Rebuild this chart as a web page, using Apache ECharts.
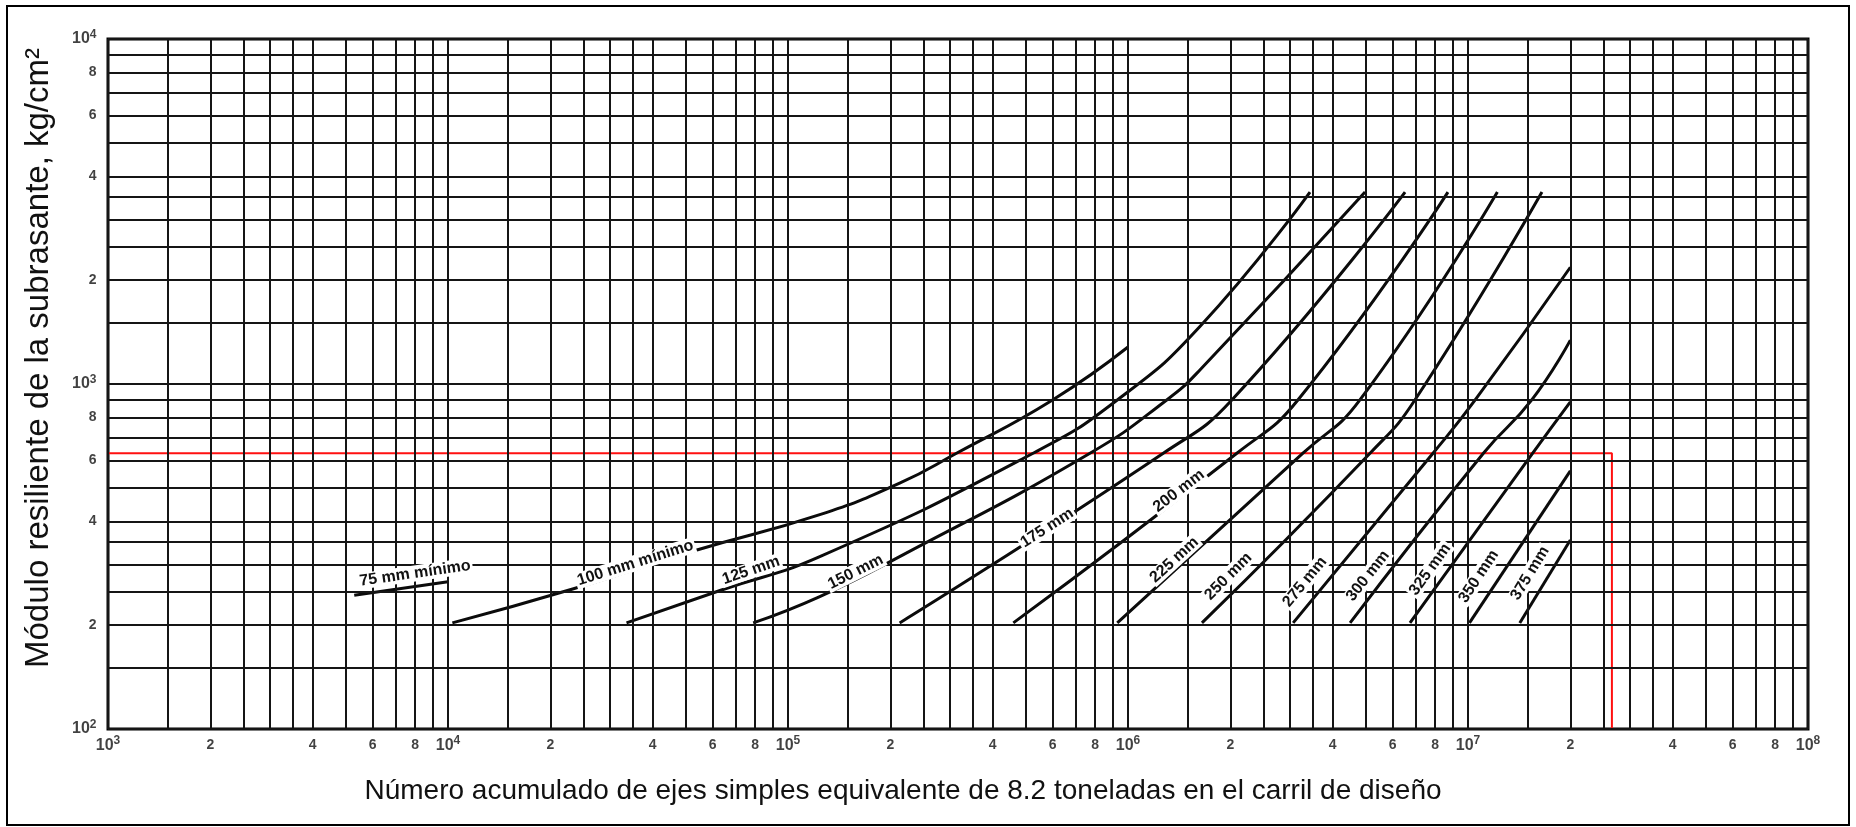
<!DOCTYPE html>
<html>
<head>
<meta charset="utf-8">
<script src="https://cdn.jsdelivr.net/npm/echarts@6/dist/echarts.min.js"></script>
<style>
  html, body { margin: 0; padding: 0; background: #fff; }
  #chart { width: 1856px; height: 827px; }
</style>
</head>
<body>
<div id="chart"></div>
<script>
// Axis ranges (log-log paper)
const xMin = 1e3, xMax = 1e8;
const yMin = 1e2, yMax = 1e4;

// Rulings drawn inside every decade of the paper
const gridMultipliers = [1, 1.5, 2, 2.5, 3, 3.5, 4, 5, 6, 7, 8, 9];
// Numbered ticks inside every decade
const tickMultipliers = [1, 2, 4, 6, 8];

// Thickness curves: [ESAL 8.2 t, subgrade resilient modulus kg/cm2]
const t075 = [[5.3e3, 244], [1.0e4, 267]];
const t100 = [[1.03e4, 203], [2.34e4, 255], [5.27e4, 328], [1.24e5, 418], [2.13e5, 516], [3.13e5, 630], [6.0e5, 899], [1.0e6, 1280]];
const t125 = [[3.35e4, 203], [6.31e4, 252], [1.24e5, 316], [5.26e5, 630], [9.3e5, 899], [1.63e6, 1470], [3.43e6, 3600]];
const t150 = [[7.9e4, 203], [1.24e5, 242], [2.13e5, 316], [7.73e5, 630], [1.3e6, 899], [1.63e6, 1100], [4.98e6, 3600]];
const t175 = [[2.13e5, 203], [1.27e6, 630], [2.02e6, 899], [6.53e6, 3600]];
const t200 = [[4.6e5, 203], [2.09e6, 630], [3.16e6, 899], [8.73e6, 3600]];
const t225 = [[9.3e5, 203], [3.27e6, 630], [4.81e6, 899], [1.22e7, 3600]];
const t250 = [[1.65e6, 203], [5.15e6, 630], [6.98e6, 899], [1.65e7, 3600]];
const t275 = [[3.06e6, 203], [7.89e6, 630], [1.05e7, 899], [2.0e7, 2180]];
const t300 = [[4.5e6, 203], [1.11e7, 630], [1.54e7, 899], [2.0e7, 1340]];
const t325 = [[6.75e6, 203], [1.55e7, 630], [2.0e7, 887]];
const t350 = [[1.01e7, 203], [2.0e7, 560]];
const t375 = [[1.42e7, 203], [2.0e7, 353]];

const curveNames = ['75 mm mínimo', '100 mm mínimo', '125 mm', '150 mm', '175 mm', '200 mm',
                    '225 mm', '250 mm', '275 mm', '300 mm', '325 mm', '350 mm', '375 mm'];
const curves = [t075, t100, t125, t150, t175, t200, t225, t250, t275, t300, t325, t350, t375];

// Where each curve's name sits along it (ESAL), and its sideways shift in px
const labelAnchorX = [8.1e3, 3.6e4, 7.94e4, 1.61e5, 5.78e5, 1.44e6, 1.42e6, 2.11e6, 3.62e6, 5.5e6, 8.4e6, 1.19e7, 1.68e7];
const labelShift = [13, 6, 9, 6, 0, 5, 8, 14, 17, 15, 15, 18, 17];

// Design example: modulus and traffic
const designMr = 630;
const designEsal = 2.65e7;

const xTitle = 'Número acumulado de ejes simples equivalente de 8.2 toneladas en el carril de diseño';
const yTitle = 'Módulo resiliente de la subrasante, kg/cm²';

function ruling(lo, hi) {
  const out = [];
  for (let e = lo; e < hi; e++) for (const m of gridMultipliers) out.push(m * Math.pow(10, e));
  out.push(Math.pow(10, hi));
  return out;
}
function ticks(lo, hi) {
  const out = [];
  for (let e = lo; e < hi; e++) for (const m of tickMultipliers) out.push(m * Math.pow(10, e));
  out.push(Math.pow(10, hi));
  return out;
}
function tickText(v) {
  const e = Math.floor(Math.log10(v) + 1e-9);
  const m = Math.round(v / Math.pow(10, e));
  return m === 1 ? '{b|10}{e|' + e + '}' : '{d|' + m + '}';
}
const tickRich = {
  b: { fontSize: 16, lineHeight: 16, color: '#111', fontFamily: 'Liberation Sans', fontWeight: 'bold' },
  e: { fontSize: 12, lineHeight: 12, padding: [0, 0, 9, 0], color: '#111', fontFamily: 'Liberation Sans', fontWeight: 'bold' },
  d: { fontSize: 14, lineHeight: 16, color: '#111', fontFamily: 'Liberation Sans', fontWeight: 'bold' }
};

const xGrid = ruling(3, 8), yGrid = ruling(2, 4);
const xTicks = ticks(3, 8), yTicks = ticks(2, 4);

const chart = echarts.init(document.getElementById('chart'), null, { renderer: 'canvas' });

const series = [
  {
    type: 'line', data: [[xMin, yMin]], symbol: 'none', silent: true, z: 1,
    lineStyle: { width: 0 },
    markLine: {
      silent: true, animation: false, symbol: ['none', 'none'],
      label: { show: false },
      lineStyle: { type: 'solid', color: '#151515', width: 2 },
      data: xGrid.map(v => ({ xAxis: v })).concat(yGrid.map(v => ({ yAxis: v })))
    }
  },
  {
    type: 'line', name: 'diseño', symbol: 'none', z: 3, silent: true,
    data: [[xMin, designMr], [designEsal, designMr], [designEsal, yMin]],
    lineStyle: { color: '#ff1010', width: 2 }
  }
].concat(curves.map((c, i) => ({
  type: 'line', name: curveNames[i], data: c, symbol: 'none', z: 4, silent: true,
  smooth: 0.5,
  lineStyle: { color: '#0b0b0b', width: 3 }
}))).concat([
  {
    type: 'scatter', data: xTicks.map(v => [v, yMin]), symbolSize: 1, clip: false, z: 5, silent: true,
    itemStyle: { color: 'rgba(0,0,0,0)' },
    label: { show: true, position: 'bottom', distance: 8, formatter: p => tickText(p.value[0]), rich: tickRich }
  },
  {
    type: 'scatter', data: yTicks.map(v => [xMin, v]), symbolSize: 1, clip: false, z: 5, silent: true,
    itemStyle: { color: 'rgba(0,0,0,0)' },
    label: { show: true, position: 'left', distance: 11, formatter: p => tickText(p.value[1]), rich: tickRich }
  }
]);

chart.setOption({
  animation: false,
  backgroundColor: '#fff',
  grid: { left: 108, right: 48, top: 39, bottom: 98, show: true, borderColor: '#000', borderWidth: 3 },
  xAxis: { type: 'log', logBase: 10, min: xMin, max: xMax,
           axisLine: { show: false }, axisTick: { show: false }, axisLabel: { show: false }, splitLine: { show: false } },
  yAxis: { type: 'log', logBase: 10, min: yMin, max: yMax,
           axisLine: { show: false }, axisTick: { show: false }, axisLabel: { show: false }, splitLine: { show: false } },
  series: series
});

// Curve names written along each curve
const labelGraphics = curves.map((c, i) => {
  const pix = c.map(p => chart.convertToPixel({ gridIndex: 0 }, p));
  const ax = chart.convertToPixel({ xAxisIndex: 0 }, labelAnchorX[i]);
  let k = 0;
  while (k < pix.length - 2 && pix[k + 1][0] < ax) k++;
  const p0 = pix[k], p1 = pix[k + 1];
  const t = (ax - p0[0]) / (p1[0] - p0[0]);
  const ay = p0[1] + t * (p1[1] - p0[1]);
  const dx = p1[0] - p0[0], dy = p1[1] - p0[1];
  const len = Math.hypot(dx, dy);
  const ux = dx / len, uy = dy / len;
  const s = labelShift[i];
  return {
    type: 'text', z: 20,
    x: ax + s * uy, y: ay - s * ux,
    rotation: Math.atan2(-dy, dx),
    style: {
      text: curveNames[i], font: 'bold 16px "Liberation Sans"', fill: '#111',
      align: 'center', verticalAlign: 'middle',
      backgroundColor: '#fff', padding: [0, 2]
    }
  };
});

chart.setOption({
  graphic: [
    { type: 'rect', z: 0, silent: true, shape: { x: 7, y: 6, width: 1842, height: 819 },
      style: { fill: 'none', stroke: '#000', lineWidth: 2 } },
    { type: 'text', z: 20, x: 903, y: 791,
      style: { text: xTitle, font: '28px "Liberation Sans"', fill: '#111', align: 'center', verticalAlign: 'middle' } },
    { type: 'text', z: 20, x: 39, y: 358, rotation: Math.PI / 2,
      style: { text: yTitle, font: '33px "Liberation Sans"', fill: '#111', align: 'center', verticalAlign: 'middle' } }
  ].concat(labelGraphics)
});
</script>
</body>
</html>
